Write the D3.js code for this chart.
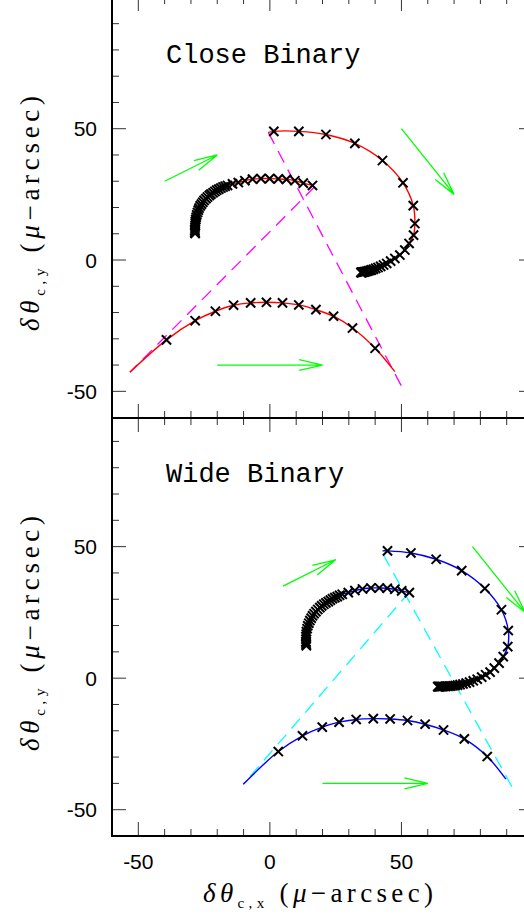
<!DOCTYPE html>
<html><head><meta charset="utf-8">
<script src="https://cdn.jsdelivr.net/npm/d3@7"></script>
<style>body{margin:0;background:#fff}svg{display:block}</style>
</head><body>
<svg id="c" width="524" height="919"></svg>
<script>
// ---------- data ----------
const minorTicks = [-50,-40,-30,-20,-10,0,10,20,30,40,50,60,70,80,90];
const majorTicks = [-50,0,50];
const tickLabels = ["-50","0","50"];
const panelTitles = ["Close Binary","Wide Binary"];

// Close binary
const closeOuterStart = [[-0.6,48.6]];
const closeOuterMarks = [[1.5,49.0],[11.0,49.0],[21.3,47.8],[32.3,44.4],[42.8,37.9],[50.6,29.4],[54.5,20.7],[55.1,13.9],[54.6,9.5],[52.9,6.3],[51.3,3.8],[49.4,1.9],[47.5,0.6],[45.9,-0.4],[44.4,-1.3],[43.2,-1.9],[42.1,-2.4],[41.1,-2.85],[40.2,-3.2],[39.4,-3.5],[38.7,-3.75],[38.1,-3.95],[37.5,-4.1],[37.0,-4.25],[36.6,-4.35],[36.2,-4.45],[35.9,-4.52],[35.6,-4.58],[35.35,-4.63],[35.15,-4.67],[34.95,-4.7],[34.8,-4.72],[34.7,-4.74],[34.6,-4.75]];
const closeInnerMarks = [[16.2,28.4],[12.7,29.3],[9.5,30.2],[6.3,30.7],[3.2,30.9],[-0.1,31.0],[-3.4,31.0],[-6.6,30.8],[-9.5,30.2],[-12.0,29.5],[-14.2,29.0],[-16.1,28.4],[-17.0,28.1],[-17.8,27.8],[-18.6,27.4],[-19.4,27.0],[-20.2,26.6],[-20.9,26.1],[-21.6,25.6],[-22.4,25.1],[-23.0,24.6],[-23.7,24.0],[-24.3,23.4],[-25.0,22.7],[-25.5,22.0],[-26.0,21.3],[-26.5,20.6],[-26.9,19.8],[-27.2,19.0],[-27.5,18.1],[-27.8,17.2],[-28.0,16.3],[-28.15,15.5],[-28.3,14.7],[-28.35,14.0],[-28.4,13.2],[-28.45,12.5],[-28.5,11.8],[-28.5,11.2],[-28.5,10.6],[-28.45,10.3],[-28.4,10.1]];
const closeLowerStart = [[-53.2,-42.7]];
const closeLowerMarks = [[-39.3,-30.4],[-28.4,-23.1],[-20.7,-19.5],[-13.8,-17.2],[-7.3,-16.3],[-1.3,-16.1],[4.8,-16.3],[11.0,-17.1],[17.5,-18.9],[24.2,-21.4],[31.4,-25.9],[40.0,-33.6]];
const closeLowerEnd = [[47.5,-42.5]];
const closeDashed = [[[-0.6,48.6],[50.1,-48.2]], [[17.1,28.0],[-53.2,-42.7]]];
const closeArrows = [[[-40,30],[-20,40]], [[50,50],[70,25]], [[-20,-40],[20,-40]]];

// Wide binary
const wideOuterStart = [[42.8,48.4]];
const wideOuterMarks = [[44.7,48.4],[53.6,47.6],[63.2,45.2],[72.9,40.9],[81.7,34.1],[88.0,26.0],[90.6,18.1],[90.4,12.0],[88.7,8.2],[87.1,5.7],[85.3,3.8],[83.7,2.3],[82.0,1.3],[80.5,0.4],[78.8,-0.4],[77.3,-1.0],[75.9,-1.5],[74.6,-1.9],[73.4,-2.2],[72.3,-2.45],[71.3,-2.65],[70.4,-2.8],[69.6,-2.9],[68.8,-3.0],[68.1,-3.05],[67.4,-3.1],[66.8,-3.12],[66.2,-3.15],[65.7,-3.17],[65.3,-3.18],[64.9,-3.19],[64.6,-3.2],[64.3,-3.2],[64.0,-3.2],[63.8,-3.2]];
const wideInnerMarks = [[53.0,32.5],[50.1,33.2],[47.5,33.8],[44.6,34.2],[41.6,34.3],[38.4,34.3],[35.2,33.9],[32.3,33.3],[29.8,32.5],[27.5,31.9],[26.5,31.5],[25.6,31.0],[24.7,30.6],[23.8,30.2],[23.0,29.65],[22.2,29.1],[21.3,28.6],[20.5,28.1],[19.7,27.5],[19.0,26.8],[18.2,26.1],[17.5,25.3],[16.8,24.5],[16.2,23.7],[15.7,22.8],[15.2,21.9],[14.8,20.9],[14.4,19.9],[14.15,18.8],[13.9,17.7],[13.8,16.7],[13.7,15.8],[13.7,14.8],[13.7,13.9],[13.75,13.3],[13.8,12.7],[13.85,12.3]];
const wideLowerStart = [[-10.1,-40.3]];
const wideLowerMarks = [[3.2,-27.9],[12.4,-21.9],[19.9,-18.6],[26.3,-16.7],[32.8,-15.7],[39.3,-15.4],[45.7,-15.5],[52.3,-16.1],[59.0,-17.5],[66.0,-19.7],[73.9,-23.1],[82.6,-29.8]];
const wideLowerEnd = [[89.7,-38.4]];
const wideDashed = [[[43.1,46.9],[92.3,-41.8]], [[53.2,32.9],[-10.1,-40.3]]];
const wideArrows = [[[5,35],[25,45]], [[77,50],[97,25]], [[20,-40],[60,-40]]];

// ---------- drawing ----------
const svg = d3.select("#c");
const x = d3.scaleLinear().domain([-60,100]).range([112,533]);
const panels = [
  {y: d3.scaleLinear().domain([-60,100]).range([417.6,-2.6]), top: -3, bottom: 418, title: panelTitles[0],
   outerStart: closeOuterStart, outer: closeOuterMarks, inner: closeInnerMarks,
   lowerStart: closeLowerStart, lower: closeLowerMarks, lowerEnd: closeLowerEnd,
   dashed: closeDashed, arrows: closeArrows, curve: "#ff0000", dash: "#ff00ff", titleY: 63, labelStart: 331},
  {y: d3.scaleLinear().domain([-60,100]).range([836,415.1]), top: 418, bottom: 836, title: panelTitles[1],
   outerStart: wideOuterStart, outer: wideOuterMarks, inner: wideInnerMarks,
   lowerStart: wideLowerStart, lower: wideLowerMarks, lowerEnd: wideLowerEnd,
   dashed: wideDashed, arrows: wideArrows, curve: "#0000ff", dash: "#00ffff", titleY: 482, labelStart: 751}
];

panels.forEach((p, i) => {
  const y = p.y;
  const x0 = x(-60), x1 = x(100), y0 = p.top, y1 = p.bottom;
  const g = svg.append("g");
  const clipId = "clip" + i;
  svg.append("clipPath").attr("id", clipId).append("rect")
    .attr("x", x0).attr("y", y0).attr("width", x1 - x0).attr("height", y1 - y0);
  const gp = g.append("g").attr("clip-path", `url(#${clipId})`);

  // dashed lines
  p.dashed.forEach(seg => {
    gp.append("line").attr("x1", x(seg[0][0])).attr("y1", y(seg[0][1]))
      .attr("x2", x(seg[1][0])).attr("y2", y(seg[1][1]))
      .attr("stroke", p.dash).attr("stroke-width", 1.3).attr("stroke-dasharray", "13,8");
  });

  const line = d3.line().x(d => x(d[0])).y(d => y(d[1])).curve(d3.curveCatmullRom.alpha(0.5));
  [p.outerStart.concat(p.outer), p.inner, p.lowerStart.concat(p.lower, p.lowerEnd)].forEach(pts => {
    gp.append("path").attr("d", line(pts)).attr("fill", "none")
      .attr("stroke", p.curve).attr("stroke-width", 1.4);
  });

  // cross markers
  const s = 4.6;
  p.outer.concat(p.inner, p.lower).forEach(d => {
    const cx = x(d[0]), cy = y(d[1]);
    gp.append("path").attr("d", `M${cx-s},${cy-s}L${cx+s},${cy+s}M${cx-s},${cy+s}L${cx+s},${cy-s}`)
      .attr("stroke", "#000").attr("stroke-width", 2).attr("fill", "none");
  });

  // green arrows
  p.arrows.forEach(a => {
    const ax = x(a[0][0]), ay = y(a[0][1]), bx = x(a[1][0]), by = y(a[1][1]);
    const ang = Math.atan2(by - ay, bx - ax), L = 24, h = 13 * Math.PI / 180;
    const lx = bx - L * Math.cos(ang - h), ly = by - L * Math.sin(ang - h);
    const rx = bx - L * Math.cos(ang + h), ry = by - L * Math.sin(ang + h);
    gp.append("path").attr("d", `M${ax},${ay}L${bx},${by}M${lx},${ly}L${bx},${by}L${rx},${ry}`)
      .attr("fill", "none").attr("stroke", "#00ff00").attr("stroke-width", 1.3);
  });

  // ticks
  const tg = g.append("g").attr("stroke", "#333").attr("stroke-width", 1);
  minorTicks.forEach(t => {
    const len = majorTicks.includes(t) ? 14 : 7;
    tg.append("line").attr("x1", x(t)).attr("x2", x(t)).attr("y1", y1).attr("y2", y1 - len);
    tg.append("line").attr("x1", x(t)).attr("x2", x(t)).attr("y1", y0).attr("y2", y0 + len);
    tg.append("line").attr("y1", y(t)).attr("y2", y(t)).attr("x1", x0).attr("x2", x0 + len);
    tg.append("line").attr("y1", y(t)).attr("y2", y(t)).attr("x1", x1).attr("x2", x1 - len);
  });

  // frame
  g.append("rect").attr("x", x0).attr("y", y0).attr("width", x1 - x0).attr("height", y1 - y0)
    .attr("fill", "none").attr("stroke", "#000").attr("stroke-width", 2);

  // y tick labels
  majorTicks.forEach((t, k) => {
    g.append("text").attr("x", 97).attr("y", y(t)).attr("dy", "0.36em")
      .attr("text-anchor", "end").attr("font-family", "Liberation Sans, Arial, sans-serif")
      .attr("font-size", 21).text(tickLabels[k]);
  });

  // title
  g.append("text").attr("x", 166).attr("y", p.titleY)
    .attr("font-family", "Liberation Mono, monospace").attr("font-size", 27)
    .text(p.title);

  // y axis label
  const yl = g.append("text").attr("transform", `translate(39,${p.labelStart}) rotate(-90)`)
    .attr("text-anchor", "start").attr("font-family", "Liberation Serif, serif").attr("font-size", 27)
    .attr("textLength", 235).attr("lengthAdjust", "spacing");
  yl.append("tspan").attr("font-style", "italic").text("δθ");
  yl.append("tspan").attr("font-size", 15).attr("dy", 6).text("c,y");
  yl.append("tspan").attr("dy", -6).text(" (");
  yl.append("tspan").attr("font-style", "italic").text("μ");
  yl.append("tspan").text("−arcsec)");
});

// x tick labels
majorTicks.forEach((t, k) => {
  svg.append("text").attr("x", x(t)).attr("y", 869).attr("text-anchor", "middle")
    .attr("font-family", "Liberation Sans, Arial, sans-serif").attr("font-size", 21).text(tickLabels[k]);
});
// x axis label
const xl = svg.append("text").attr("x", 203).attr("y", 902).attr("text-anchor", "start")
  .attr("font-family", "Liberation Serif, serif").attr("font-size", 27)
  .attr("textLength", 230).attr("lengthAdjust", "spacing");
xl.append("tspan").attr("font-style", "italic").text("δθ");
xl.append("tspan").attr("font-size", 15).attr("dy", 6).text("c,x");
xl.append("tspan").attr("dy", -6).text(" (");
xl.append("tspan").attr("font-style", "italic").text("μ");
xl.append("tspan").text("−arcsec)");
</script>
</body></html>
